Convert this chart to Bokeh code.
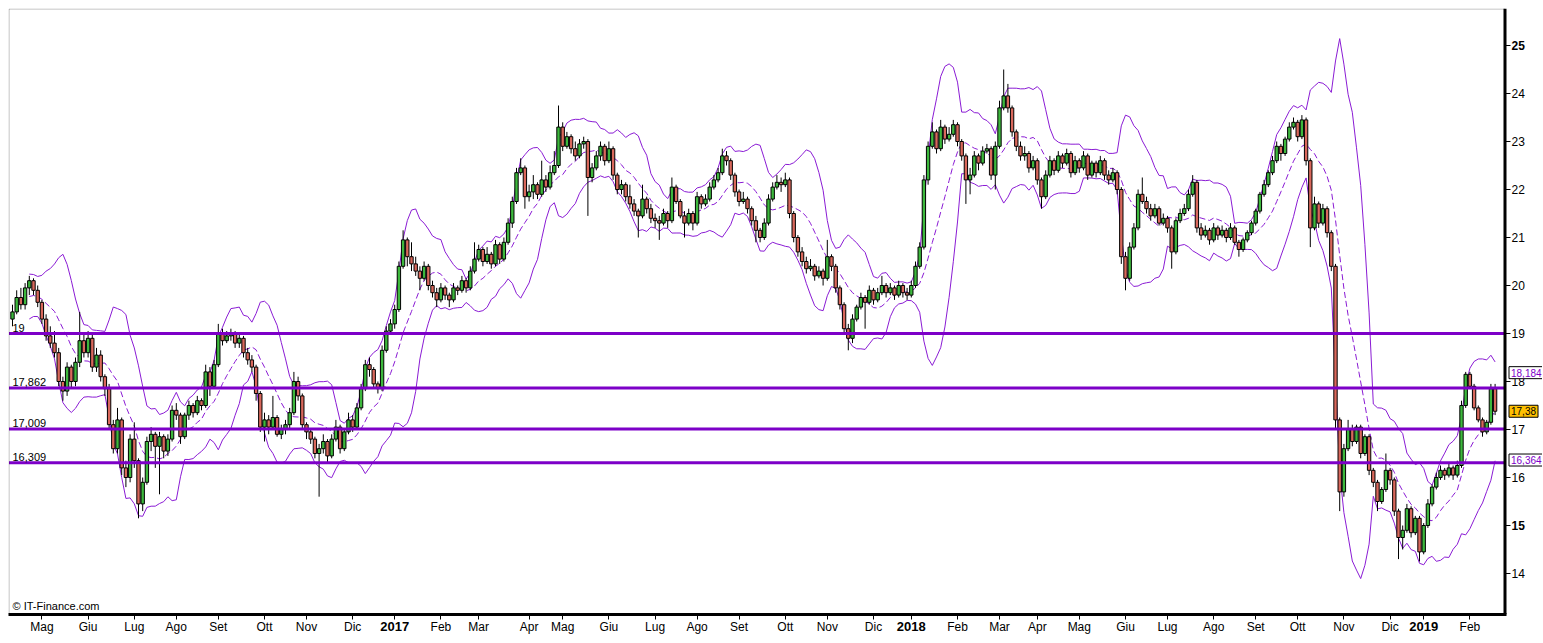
import numpy as np
import pandas as pd
from bokeh.plotting import figure
from bokeh.models import (Range1d, FixedTicker, Span, Label, ColumnDataSource,
                          LinearAxis, BoxAnnotation)
from bokeh.core.properties import value
from bokeh.embed import file_html
from bokeh.resources import INLINE

# ---- candle data (one candle ~ two sessions) ----
opens = [
19.3, 19.45, 19.75, 19.6, 19.95, 20.1, 19.9, 19.65, 19.3, 18.95,
18.8, 18.6, 18.0, 17.8, 18.3, 18.0, 18.4, 18.85, 18.6, 18.9,
18.3, 18.55, 18.1, 17.85, 17.1, 16.6, 17.2, 16.2, 16.0, 16.8,
16.35, 15.45, 15.9, 16.75, 16.9, 16.65, 16.85, 16.55, 16.8, 17.4,
17.3, 16.85, 17.3, 17.5, 17.35, 17.6, 17.5, 18.2, 17.9, 18.35,
19.0, 18.85, 18.95, 19.0, 18.8, 18.9, 18.6, 18.45, 18.3, 17.75,
17.05, 17.2, 17.05, 17.25, 16.9, 17.0, 17.1, 17.35, 18.0, 17.7,
17.1, 16.95, 16.8, 16.5, 16.6, 16.75, 16.45, 16.8, 17.05, 16.6,
16.95, 17.2, 17.05, 17.45, 17.85, 18.35, 18.25, 17.95, 17.85, 18.65,
19.05, 19.2, 19.5, 20.4, 20.95, 20.6, 20.45, 20.3, 20.15, 20.4,
20.0, 19.85, 19.7, 19.95, 19.8, 19.7, 19.95, 19.9, 20.1, 19.95,
20.3, 20.55, 20.75, 20.5, 20.65, 20.45, 20.85, 20.55, 20.9, 21.3,
21.75, 22.35, 22.45, 21.85, 21.95, 22.1, 21.9, 22.2, 22.05, 22.35,
22.5, 23.3, 22.9, 23.1, 22.85, 22.7, 22.95, 23.0, 22.25, 22.45,
22.7, 22.9, 22.6, 22.85, 22.3, 22.0, 22.1, 21.85, 21.7, 21.55,
21.45, 21.8, 21.6, 21.4, 21.35, 21.3, 21.5, 21.35, 22.05, 21.75,
21.45, 21.3, 21.5, 21.3, 21.85, 21.7, 21.8, 22.05, 22.2, 22.35,
22.7, 22.6, 22.3, 21.95, 21.75, 21.8, 21.6, 21.35, 21.15, 21.0,
21.3, 21.8, 22.05, 22.15, 22.1, 22.2, 21.5, 21.0, 20.7, 20.5,
20.35, 20.4, 20.2, 20.3, 20.15, 20.6, 20.4, 19.95, 19.6, 19.1,
18.9, 19.3, 19.55, 19.75, 19.65, 19.9, 19.7, 19.85, 20.0, 19.85,
19.95, 19.8, 20.0, 19.85, 19.8, 20.0, 20.4, 20.8, 22.2, 22.9,
23.2, 22.85, 23.3, 23.05, 23.15, 23.35, 23.0, 22.7, 22.2, 22.3,
22.7, 22.55, 22.8, 22.85, 22.3, 22.9, 23.7, 23.95, 23.7, 23.2,
22.9, 22.7, 22.75, 22.45, 22.6, 22.2, 21.85, 22.3, 22.6, 22.4,
22.7, 22.55, 22.75, 22.35, 22.6, 22.45, 22.7, 22.3, 22.55, 22.35,
22.6, 22.3, 22.2, 22.35, 22.0, 20.6, 20.15, 20.8, 21.2, 21.9,
21.75, 21.6, 21.45, 21.6, 21.3, 21.4, 21.2, 20.7, 21.35, 21.5,
21.6, 21.9, 22.15, 21.2, 21.05, 21.15, 20.95, 21.2, 21.05, 21.15,
21.0, 21.2, 20.9, 20.75, 20.95, 21.1, 21.3, 21.55, 21.9, 22.1,
22.35, 22.6, 22.9, 22.75, 23.05, 23.3, 23.4, 23.1, 23.45, 22.6,
21.2, 21.7, 21.3, 21.6, 21.1, 20.4, 17.2, 15.7, 16.6, 17.0,
16.75, 17.05, 16.5, 16.85, 16.15, 15.9, 15.5, 15.75, 16.15, 15.95,
15.3, 14.75, 14.9, 15.35, 14.85, 15.15, 14.45, 15.0, 15.45, 15.8,
16.0, 16.15, 16.05, 16.2, 16.05, 16.25, 17.5, 18.15, 17.9, 17.45,
17.2, 16.95, 17.15, 17.85,
]
highs = [
19.6, 19.9, 19.95, 20.05, 20.2, 20.15, 20.0, 19.7, 19.4, 19.15,
19.05, 18.7, 18.1, 18.4, 18.35, 18.5, 19.45, 19.0, 19.05, 19.0,
18.7, 18.65, 18.15, 17.95, 17.2, 17.45, 17.25, 16.35, 16.9, 17.15,
16.4, 16.0, 16.85, 17.05, 16.95, 16.95, 16.9, 16.9, 17.5, 17.55,
17.35, 17.35, 17.6, 17.55, 17.7, 17.65, 18.35, 18.3, 18.45, 19.2,
19.1, 19.05, 19.1, 19.05, 19.0, 18.95, 18.7, 18.55, 18.35, 17.8,
17.35, 17.3, 17.7, 17.3, 17.1, 17.2, 17.45, 18.2, 18.1, 17.75,
17.15, 17.0, 16.85, 16.7, 16.9, 16.8, 16.9, 17.2, 17.1, 17.0,
17.35, 17.3, 17.55, 17.95, 18.45, 18.5, 18.3, 18.0, 18.75, 19.15,
19.3, 19.6, 20.5, 21.15, 21.0, 20.9, 20.6, 20.4, 20.5, 20.45,
20.1, 19.95, 20.05, 20.0, 19.85, 20.05, 20.0, 20.2, 20.15, 20.4,
20.9, 20.85, 20.8, 20.8, 20.7, 20.95, 20.9, 21.0, 21.4, 21.85,
22.45, 22.65, 22.5, 22.1, 22.3, 22.15, 22.6, 22.3, 22.5, 22.8,
23.75, 23.4, 23.2, 23.15, 23.0, 23.05, 23.1, 23.05, 22.55, 22.8,
23.0, 22.95, 23.0, 22.9, 22.35, 22.2, 22.15, 22.1, 21.8, 21.6,
22.1, 21.85, 21.7, 21.5, 21.45, 21.6, 21.55, 22.25, 22.1, 21.8,
21.55, 21.6, 21.55, 21.95, 21.9, 21.9, 22.15, 22.3, 22.45, 22.85,
22.8, 22.65, 22.35, 22.0, 21.95, 21.85, 21.65, 21.45, 21.2, 21.4,
21.9, 22.15, 22.3, 22.25, 22.35, 22.25, 21.55, 21.05, 20.8, 20.6,
20.55, 20.45, 20.4, 20.35, 20.95, 20.65, 20.45, 20.0, 19.65, 19.2,
19.4, 19.6, 19.85, 19.8, 20.0, 19.95, 19.95, 20.2, 20.05, 20.05,
20.0, 20.1, 20.05, 19.95, 20.1, 20.5, 20.9, 22.3, 23.0, 23.4,
23.25, 23.45, 23.35, 23.3, 23.45, 23.4, 23.05, 22.75, 22.45, 22.8,
22.75, 22.9, 22.95, 22.9, 23.0, 23.85, 24.5, 24.2, 23.75, 23.25,
23.0, 22.9, 22.8, 22.7, 22.65, 22.25, 22.4, 22.7, 22.65, 22.8,
22.75, 22.85, 22.8, 22.7, 22.65, 22.8, 22.75, 22.6, 22.6, 22.7,
22.65, 22.4, 22.45, 22.4, 22.05, 20.7, 20.9, 21.3, 22.0, 22.25,
21.85, 21.7, 21.7, 21.65, 21.5, 21.45, 21.25, 21.4, 21.6, 21.7,
22.0, 22.3, 22.2, 21.3, 21.25, 21.2, 21.3, 21.25, 21.25, 21.2,
21.3, 21.25, 20.95, 21.0, 21.15, 21.35, 21.6, 21.95, 22.2, 22.4,
22.7, 23.0, 22.95, 23.1, 23.4, 23.5, 23.45, 23.55, 23.5, 22.65,
21.85, 21.75, 21.7, 21.65, 21.15, 20.45, 17.25, 16.7, 17.2, 17.1,
17.1, 17.1, 16.9, 16.9, 16.2, 15.95, 15.8, 16.5, 16.2, 16.0,
15.35, 15.0, 15.45, 15.4, 15.2, 15.2, 15.05, 15.55, 15.85, 16.1,
16.25, 16.2, 16.3, 16.25, 16.35, 17.6, 18.2, 18.2, 17.95, 17.5,
17.25, 17.2, 17.95, 17.95,
]
lows = [
19.15, 19.4, 19.5, 19.5, 19.8, 19.8, 19.55, 19.2, 18.85, 18.7,
18.5, 17.9, 17.6, 17.7, 17.85, 17.9, 18.3, 18.5, 18.5, 18.2,
18.2, 18.0, 17.7, 17.0, 16.5, 16.5, 16.05, 15.8, 15.9, 16.2,
15.15, 15.3, 15.85, 16.55, 16.2, 15.65, 16.4, 16.45, 16.75, 17.2,
16.7, 16.8, 17.2, 17.25, 17.3, 17.4, 17.45, 17.7, 17.85, 18.3,
18.75, 18.8, 18.85, 18.7, 18.7, 18.5, 18.35, 18.2, 17.6, 16.95,
16.75, 16.9, 17.0, 16.85, 16.8, 16.9, 17.0, 17.3, 17.6, 17.0,
16.8, 16.7, 16.4, 15.6, 16.5, 16.3, 16.4, 16.75, 16.5, 16.55,
16.9, 16.95, 17.0, 17.4, 17.8, 18.1, 17.85, 17.75, 17.8, 18.6,
19.0, 19.1, 19.45, 20.35, 20.4, 20.3, 20.2, 19.9, 20.1, 19.9,
19.75, 19.55, 19.65, 19.7, 19.55, 19.65, 19.8, 19.85, 19.85, 19.9,
20.25, 20.5, 20.4, 20.45, 20.35, 20.4, 20.45, 20.5, 20.85, 21.2,
21.7, 22.3, 21.6, 21.75, 21.8, 21.8, 21.85, 21.95, 22.0, 22.3,
22.45, 22.8, 22.85, 22.75, 22.6, 22.65, 22.85, 21.45, 22.15, 22.4,
22.6, 22.5, 22.55, 22.2, 21.9, 21.9, 21.75, 21.6, 21.45, 21.0,
21.4, 21.5, 21.3, 21.2, 20.95, 21.25, 21.2, 21.3, 21.7, 21.4,
21.0, 21.25, 21.15, 21.25, 21.6, 21.65, 21.75, 22.0, 22.15, 22.3,
22.5, 22.2, 21.85, 21.65, 21.7, 21.5, 21.25, 20.9, 20.9, 20.95,
21.25, 21.75, 22.0, 21.95, 22.05, 21.4, 20.9, 20.6, 20.4, 20.25,
20.3, 20.1, 20.15, 20.0, 20.1, 20.3, 19.85, 19.5, 19.0, 18.65,
18.8, 19.25, 19.5, 19.1, 19.6, 19.6, 19.65, 19.8, 19.75, 19.8,
19.7, 19.75, 19.75, 19.7, 19.75, 19.95, 20.35, 20.75, 22.1, 22.85,
22.75, 22.8, 22.95, 23.0, 23.1, 22.9, 22.6, 21.7, 21.9, 22.25,
22.4, 22.5, 22.75, 22.2, 22.0, 22.85, 23.65, 23.6, 23.1, 22.8,
22.6, 22.6, 22.35, 22.4, 22.1, 21.6, 21.8, 22.25, 22.3, 22.35,
22.45, 22.5, 22.25, 22.3, 22.35, 22.4, 22.2, 22.25, 22.25, 22.3,
22.2, 22.1, 22.15, 21.9, 20.45, 19.9, 20.1, 20.75, 21.15, 21.7,
21.5, 21.35, 21.4, 21.25, 21.25, 21.1, 20.35, 20.65, 21.3, 21.45,
21.55, 21.85, 21.1, 20.95, 21.0, 20.85, 20.9, 20.95, 21.0, 20.9,
20.95, 20.85, 20.6, 20.7, 20.9, 21.05, 21.25, 21.5, 21.85, 22.05,
22.3, 22.55, 22.6, 22.7, 23.0, 23.25, 23.0, 23.05, 22.5, 20.8,
21.15, 21.2, 21.25, 21.0, 20.3, 17.0, 15.3, 15.6, 16.55, 16.65,
16.7, 16.4, 16.45, 16.05, 15.8, 15.3, 15.45, 15.7, 15.85, 15.2,
14.3, 14.5, 14.85, 14.75, 14.8, 14.25, 14.4, 14.95, 15.4, 15.75,
15.95, 15.95, 16.0, 15.95, 16.0, 16.2, 17.45, 17.85, 17.4, 17.15,
16.85, 16.9, 17.1, 17.3,
]
closes = [
19.45, 19.75, 19.6, 19.95, 20.1, 19.9, 19.65, 19.3, 18.95, 18.8,
18.6, 18.0, 17.8, 18.3, 18.0, 18.4, 18.85, 18.6, 18.9, 18.3,
18.55, 18.1, 17.85, 17.1, 16.6, 17.2, 16.2, 16.0, 16.8, 16.35,
15.45, 15.9, 16.75, 16.9, 16.65, 16.85, 16.55, 16.8, 17.4, 17.3,
16.85, 17.3, 17.5, 17.35, 17.6, 17.5, 18.2, 17.9, 18.35, 19.0,
18.85, 18.95, 19.0, 18.8, 18.9, 18.6, 18.45, 18.3, 17.75, 17.05,
17.2, 17.05, 17.25, 16.9, 17.0, 17.1, 17.35, 18.0, 17.7, 17.1,
16.95, 16.8, 16.5, 16.6, 16.75, 16.45, 16.8, 17.05, 16.6, 16.95,
17.2, 17.05, 17.45, 17.85, 18.35, 18.25, 17.95, 17.85, 18.65, 19.05,
19.2, 19.5, 20.4, 20.95, 20.6, 20.45, 20.3, 20.15, 20.4, 20.0,
19.85, 19.7, 19.95, 19.8, 19.7, 19.95, 19.9, 20.1, 19.95, 20.3,
20.55, 20.75, 20.5, 20.65, 20.45, 20.85, 20.55, 20.9, 21.3, 21.75,
22.35, 22.45, 21.85, 21.95, 22.1, 21.9, 22.2, 22.05, 22.35, 22.5,
23.3, 22.9, 23.1, 22.85, 22.7, 22.95, 23.0, 22.25, 22.45, 22.7,
22.9, 22.6, 22.85, 22.3, 22.0, 22.1, 21.85, 21.7, 21.55, 21.45,
21.8, 21.6, 21.4, 21.35, 21.3, 21.5, 21.35, 22.05, 21.75, 21.45,
21.3, 21.5, 21.3, 21.85, 21.7, 21.8, 22.05, 22.2, 22.35, 22.7,
22.6, 22.3, 21.95, 21.75, 21.8, 21.6, 21.35, 21.15, 21.0, 21.3,
21.8, 22.05, 22.15, 22.1, 22.2, 21.5, 21.0, 20.7, 20.5, 20.35,
20.4, 20.2, 20.3, 20.15, 20.6, 20.4, 19.95, 19.6, 19.1, 18.9,
19.3, 19.55, 19.75, 19.65, 19.9, 19.7, 19.85, 20.0, 19.85, 19.95,
19.8, 20.0, 19.85, 19.8, 20.0, 20.4, 20.8, 22.2, 22.9, 23.2,
22.85, 23.3, 23.05, 23.15, 23.35, 23.0, 22.7, 22.2, 22.3, 22.7,
22.55, 22.8, 22.85, 22.3, 22.9, 23.7, 23.95, 23.7, 23.2, 22.9,
22.7, 22.75, 22.45, 22.6, 22.2, 21.85, 22.3, 22.6, 22.4, 22.7,
22.55, 22.75, 22.35, 22.6, 22.45, 22.7, 22.3, 22.55, 22.35, 22.6,
22.3, 22.2, 22.35, 22.0, 20.6, 20.15, 20.8, 21.2, 21.9, 21.75,
21.6, 21.45, 21.6, 21.3, 21.4, 21.2, 20.7, 21.35, 21.5, 21.6,
21.9, 22.15, 21.2, 21.05, 21.15, 20.95, 21.2, 21.05, 21.15, 21.0,
21.2, 20.9, 20.75, 20.95, 21.1, 21.3, 21.55, 21.9, 22.1, 22.35,
22.6, 22.9, 22.75, 23.05, 23.3, 23.4, 23.1, 23.45, 22.6, 21.2,
21.7, 21.3, 21.6, 21.1, 20.4, 17.2, 15.7, 16.6, 17.0, 16.75,
17.05, 16.5, 16.85, 16.15, 15.9, 15.5, 15.75, 16.15, 15.95, 15.3,
14.75, 14.9, 15.35, 14.85, 15.15, 14.45, 15.0, 15.45, 15.8, 16.0,
16.15, 16.05, 16.2, 16.05, 16.25, 17.5, 18.15, 17.9, 17.45, 17.2,
16.95, 17.15, 17.85, 17.38,
]

# ---- axis ticks / labels ----
month_ticks = [7, 18, 29, 39, 49, 60, 70, 81, 91, 102, 111, 123, 131, 142, 153, 163,
               173, 184, 194, 205, 214, 225, 235, 244, 254, 265, 275, 286, 296, 306,
               317, 328, 336, 347]
month_labels = ["Mag", "Giu", "Lug", "Ago", "Set", "Ott", "Nov", "Dic", "2017", "Feb",
                "Mar", "Apr", "Mag", "Giu", "Lug", "Ago", "Set", "Ott", "Nov", "Dic",
                "2018", "Feb", "Mar", "Apr", "Mag", "Giu", "Lug", "Ago", "Set", "Ott",
                "Nov", "Dic", "2019", "Feb"]
price_ticks = [14, 15, 16, 17, 18, 19, 20, 21, 22, 23, 24, 25]
bold_price_ticks = [15, 25]

# ---- horizontal levels and right-side value boxes ----
level_values = [19.0, 17.862, 17.009, 16.309]
level_texts = ["19", "17,862", "17,009", "16,309"]
box_values = [18.184, 17.38, 16.364]
box_texts = ["18,184", "17,38", "16,364"]

BB_PERIOD = 10
BB_K = 2.0

# ---- styles ----
PURPLE = "#7D00C8"
BAND = "#8A1BD4"
GREEN = "#3DB83D"
RED = "#D9685C"
FONT = "Liberation Sans"

# layout helpers: page pixel -> data coordinate (candle pitch 4.2 px, 48 px per unit)
def xpx(px):
    return (px - 12.0) / 4.2

def ypx(py):
    return 25.0 - (py - 45.0) / 48.0

o = np.array(opens); h = np.array(highs); l = np.array(lows); c = np.array(closes)
h = np.maximum(h, np.maximum(o, c)); l = np.minimum(l, np.minimum(o, c))
x = np.arange(len(c))

s = pd.Series(c)
mid = s.rolling(BB_PERIOD, min_periods=5).mean()
sd = s.rolling(BB_PERIOD, min_periods=5).std(ddof=0)
upper = mid + BB_K * sd
lower = mid - BB_K * sd

FRAME_W, FRAME_H = 1534, 606
p = figure(frame_width=FRAME_W, frame_height=FRAME_H, output_backend="svg",
           toolbar_location=None,
           x_range=Range1d(xpx(8), xpx(8 + FRAME_W)), y_range=Range1d(ypx(8 + FRAME_H), ypx(8)),
           min_border_left=8, min_border_top=8, min_border_right=0, min_border_bottom=22)
p.outline_line_color = None
p.xgrid.visible = False
p.ygrid.visible = False
p.yaxis.visible = False
p.background_fill_color = "white"
p.border_fill_color = "white"

XR = xpx(1504.5)   # position of the price scale line
XL = xpx(8.5)      # left edge of the chart box

# chart box
p.add_layout(BoxAnnotation(left=XL, right=XR, top=ypx(8.5), bottom=ypx(614),
                           fill_alpha=0, line_color="black", line_width=1))

# Bollinger bands
p.line(x, upper.values, line_color=BAND, line_width=1)
p.line(x, lower.values, line_color=BAND, line_width=1)
p.line(x, mid.values, line_color=BAND, line_width=1, line_dash="6 3")

# candles
p.segment(x, h, x, l, line_color="black", line_width=1)
up = c >= o
src_up = ColumnDataSource(dict(x=x[up], top=c[up], bottom=o[up]))
src_dn = ColumnDataSource(dict(x=x[~up], top=o[~up], bottom=c[~up]))
p.vbar(x="x", top="top", bottom="bottom", width=0.8, source=src_up,
       fill_color=GREEN, line_color="black", line_width=1)
p.vbar(x="x", top="top", bottom="bottom", width=0.8, source=src_dn,
       fill_color=RED, line_color="black", line_width=1)

# horizontal levels (from the chart's left edge to the price scale)
lv = np.array(level_values)
p.segment(x0=[XL] * len(lv), x1=[XR] * len(lv), y0=lv, y1=lv,
          line_color=PURPLE, line_width=3)
for v, t in zip(level_values, level_texts):
    p.add_layout(Label(x=xpx(12), y=v, text=t, y_offset=2,
                       text_baseline="bottom", text_font=FONT, text_font_size="11px",
                       text_color="black"))

# price scale on the right
pt = np.array(price_ticks, dtype=float)
p.segment(x0=[XR] * len(pt), x1=[xpx(1510)] * len(pt), y0=pt, y1=pt,
          line_color="black", line_width=1)
normal = [t for t in price_ticks if t not in bold_price_ticks]
p.text(x=[xpx(1511)] * len(normal), y=normal, text=[str(t) for t in normal],
       text_font=value(FONT), text_font_size="12px", text_baseline="middle",
       text_align="left", text_color="black")
p.text(x=[xpx(1511)] * len(bold_price_ticks), y=bold_price_ticks,
       text=[str(t) for t in bold_price_ticks],
       text_font=value(FONT), text_font_size="12px", text_font_style="bold",
       text_baseline="middle", text_align="left", text_color="black")
p.add_layout(Span(location=XR, dimension="height", line_color="black", line_width=3))

# right value boxes
for v, t in zip(box_values, box_texts):
    orange = (t == "17,38")
    p.add_layout(Label(x=xpx(1508.5), y=v, text=t, text_baseline="middle",
                       text_font=FONT, text_font_size="10px",
                       text_color="black" if orange else PURPLE,
                       background_fill_color="#FFC000" if orange else "white",
                       border_line_color="black", border_line_width=1, padding=2))

# month axis (real axis) + bold year axis overlaid with negative standoff
ax = p.xaxis[0]
ax.ticker = FixedTicker(ticks=month_ticks)
ax.major_label_overrides = {t: ("" if lab.isdigit() else lab)
                            for t, lab in zip(month_ticks, month_labels)}
ax.bounds = (xpx(8), xpx(1506))
ax.axis_line_width = 3
ax.major_tick_out = 5
ax.major_tick_in = 0
ax.minor_tick_out = 0
ax.minor_tick_in = 0
ax.major_label_standoff = 0
ax.major_label_text_font = FONT
ax.major_label_text_font_size = "12px"
ax.major_label_text_color = "black"

year_ticks = [t for t, lab in zip(month_ticks, month_labels) if lab.isdigit()]
year_labels = [lab for lab in month_labels if lab.isdigit()]
yax = LinearAxis(ticker=FixedTicker(ticks=year_ticks),
                 major_label_overrides=dict(zip(year_ticks, year_labels)),
                 axis_line_color=None, major_tick_line_color=None,
                 minor_tick_line_color=None, major_tick_out=0, major_tick_in=0,
                 minor_tick_out=0, minor_tick_in=0, major_label_standoff=-15,
                 major_label_text_font=FONT, major_label_text_font_size="13px",
                 major_label_text_font_style="bold", major_label_text_color="black")
p.add_layout(yax, "below")

p.add_layout(Label(x=xpx(12), y=3, y_units="screen", text="\u00a9 IT-Finance.com",
                   text_font=FONT, text_font_size="11px", text_color="black",
                   text_baseline="bottom"))

open("out.html", "w").write(file_html(p, INLINE))
